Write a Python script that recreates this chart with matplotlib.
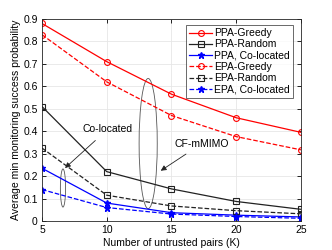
import matplotlib
matplotlib.use('Agg')
import matplotlib.pyplot as plt
from matplotlib.patches import Ellipse

plt.rcParams['font.family'] = ['Liberation Sans', 'DejaVu Sans']

K = [5, 10, 15, 20, 25]
ppa_greedy = [0.88, 0.71, 0.565, 0.46, 0.395]
ppa_random = [0.51, 0.22, 0.143, 0.087, 0.052]
ppa_coloc = [0.235, 0.08, 0.037, 0.026, 0.018]
epa_greedy = [0.83, 0.62, 0.47, 0.376, 0.317]
epa_random = [0.325, 0.115, 0.067, 0.046, 0.032]
epa_coloc = [0.14, 0.06, 0.031, 0.02, 0.012]

fig = plt.figure(figsize=(3.32, 2.5), dpi=100)
ax = fig.add_axes([0.1265, 0.116, 0.78, 0.808])

red = '#ff0000'
blk = '#222222'
blu = '#0000ff'
lw = 0.9
ax.plot(K, ppa_greedy, '-o', color=red, mfc='none', ms=4.2, lw=lw, mew=0.8, label='PPA-Greedy')
ax.plot(K, ppa_random, '-s', color=blk, mfc='none', ms=3.8, lw=lw, mew=0.8, label='PPA-Random')
ax.plot(K, ppa_coloc, '-*', color=blu, ms=4.5, lw=lw, label='PPA, Co-located')
ax.plot(K, epa_greedy, '--o', color=red, mfc='none', ms=4.2, lw=lw, mew=0.8, label='EPA-Greedy')
ax.plot(K, epa_random, '--s', color=blk, mfc='none', ms=3.8, lw=lw, mew=0.8, label='EPA-Random')
ax.plot(K, epa_coloc, '--*', color=blu, ms=4.5, lw=lw, label='EPA, Co-located')

ax.set_xlim(5, 25)
ax.set_ylim(0, 0.9)
ax.set_xticks([5, 10, 15, 20, 25])
ax.set_yticks([0, 0.1, 0.2, 0.3, 0.4, 0.5, 0.6, 0.7, 0.8, 0.9])
ax.set_yticklabels(['0', '0.1', '0.2', '0.3', '0.4', '0.5', '0.6', '0.7', '0.8', '0.9'])
ax.grid(True, color='#e6e6e6', lw=0.6)
ax.set_axisbelow(True)
for s in ax.spines.values():
    s.set_color('#262626')
    s.set_linewidth(0.6)
ax.tick_params(labelsize=7.5, length=3, width=0.6, direction='in', top=True, right=True, pad=3)
ax.set_xlabel('Number of untrusted pairs (K)', fontsize=7.5, labelpad=2)
ax.set_ylabel('Average min monitoring success probability', fontsize=7.5, labelpad=2)

# annotations
ax.add_patch(Ellipse((6.62, 0.147), 0.4, 0.17, fill=False, ec='#555555', lw=0.6))
ax.add_patch(Ellipse((13.2, 0.345), 1.4, 0.58, fill=False, ec='#555555', lw=0.6))
ax.annotate('Co-located', xy=(6.78, 0.236), xytext=(10.1, 0.41), fontsize=7.5, ha='center', va='center',
            arrowprops=dict(arrowstyle='-|>', color='#222222', lw=0.6, mutation_scale=8, shrinkA=4, shrinkB=0))
ax.annotate('CF-mMIMO', xy=(14.17, 0.224), xytext=(17.3, 0.343), fontsize=7.5, ha='center', va='center',
            arrowprops=dict(arrowstyle='-|>', color='#222222', lw=0.6, mutation_scale=8, shrinkA=3, shrinkB=0))

leg = ax.legend(loc='upper right', fontsize=7.5, frameon=True, fancybox=False, edgecolor='#262626',
                handlelength=2.2, handletextpad=0.2, labelspacing=0.12, borderpad=0.3,
                borderaxespad=0, bbox_to_anchor=(0.969, 0.97))
leg.get_frame().set_linewidth(0.6)

fig.savefig('out.png', dpi=100)
